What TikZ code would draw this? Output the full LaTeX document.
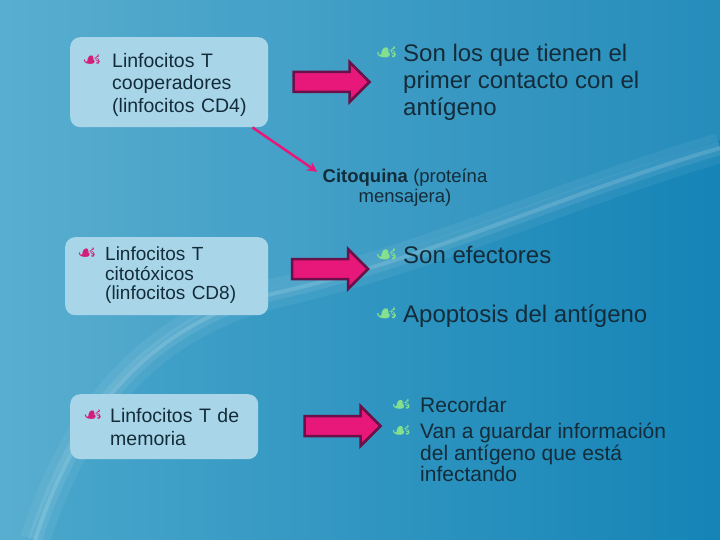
\documentclass[tikz,border=0pt]{standalone}
\usepackage{fontspec}
\setmainfont{Liberation Sans}
\newfontfamily\symfont{DejaVu Sans}
\usetikzlibrary{shapes.arrows, arrows.meta, positioning}

\definecolor{bgleft}{HTML}{4CA8CC}
\definecolor{bgright}{HTML}{1584B6}
\definecolor{boxfill}{HTML}{A8D6E8}
\definecolor{ink}{HTML}{142C3A}
\definecolor{pinkbul}{HTML}{D0207A}
\definecolor{greenbul}{HTML}{84E08C}
\definecolor{arrowfill}{HTML}{E8187A}
\definecolor{arrowline}{HTML}{6B1048}

\newcommand{\fs}[2]{\fontsize{#1}{#2}\selectfont}
\newcommand{\bul}[3]{\makebox[#2][l]{\fontsize{#3}{#3}\symfont\color{#1}☙}}

\begin{document}
\begin{tikzpicture}[
    x=1pt, y=-1pt,
    cellbox/.style={rectangle, rounded corners=10pt, fill=boxfill, text=ink,
        anchor=north west, inner xsep=12pt, inner ysep=0pt, align=left},
    item/.style={text=ink, inner sep=0pt, anchor=base west},
    blockarrow/.style={single arrow, single arrow head extend=10pt,
        minimum height=76pt, inner xsep=0pt, inner ysep=8.75pt,
        fill=arrowfill, draw=arrowline, line width=2.5pt},
    link/.style={draw=arrowfill, line width=2.5pt,
        -{Stealth[length=10pt,width=10pt]}, shorten >=4pt}
]
\useasboundingbox (0,0) rectangle (720,540);
\fill[left color=bgleft, right color=bgright] (0,0) rectangle (720,540);
\fill[white, opacity=0.07] (0,0) -- (720,0) -- (720,140)
  .. controls (560,190) and (430,250) .. (280,285)
  .. controls (160,315) and (80,400) .. (30,540) -- (0,540) -- cycle;
\draw[white, opacity=0.06, line width=30pt] (35,540) .. controls (80,400) and (160,320) .. (280,292)
  .. controls (430,258) and (560,195) .. (720,148);
\draw[white, opacity=0.08, line width=14pt] (35,540) .. controls (80,400) and (160,320) .. (280,292)
  .. controls (430,258) and (560,195) .. (720,148);
\draw[white, opacity=0.14, line width=4pt] (35,540) .. controls (80,400) and (160,320) .. (280,292)
  .. controls (430,258) and (560,195) .. (720,148);

\node (cd4) [cellbox, text width=174pt, minimum height=90pt, font=\fs{19.5}{22.5}] at (70,37)
  {\begin{tabular}{@{}l@{}l@{}}\rule{0pt}{21.7pt}\bul{pinkbul}{30pt}{22pt} & Linfocitos T\\
   & cooperadores\\ & (linfocitos CD4)\end{tabular}};
\node (cd8) [cellbox, text width=179pt, minimum height=78pt, font=\fs{19}{19}] at (65,237)
  {\begin{tabular}{@{}l@{}l@{}}\bul{pinkbul}{28pt}{22pt} & Linfocitos T\\
   & citotóxicos\\ & (linfocitos CD8)\end{tabular}};
\node (memoria) [cellbox, text width=162pt, inner xsep=13pt, minimum height=65pt, font=\fs{19.5}{23}] at (70,394)
  {\begin{tabular}{@{}l@{}l@{}}\rule{0pt}{20.6pt}\bul{pinkbul}{27pt}{22pt} & Linfocitos T de\\
   & memoria\end{tabular}};

\node (arrowA) [blockarrow] at (326.5,82) {};
\node (arrowB) [blockarrow] at (325,269) {};
\node (arrowC) [blockarrow] at (337.5,426) {};

\node (contacto) [item, font=\fs{24}{27}] at (375,62)
  {\begin{tabular}[t]{@{}l@{}l@{}}\bul{greenbul}{28pt}{26pt} & Son los que tienen el\\
   & primer contacto con el\\ & antígeno\end{tabular}};
\node (efectores) [item, font=\fs{24}{27}] at (375,263)
  {\bul{greenbul}{28pt}{26pt}Son efectores};
\node (apoptosis) [item, font=\fs{24}{27}] at (375,322)
  {\bul{greenbul}{28pt}{26pt}Apoptosis del antígeno};
\node (recordar) [item, font=\fs{21}{21.5}] at (391,412)
  {\begin{tabular}[t]{@{}l@{}l@{}}\bul{greenbul}{29pt}{23pt} & Recordar\\[4.5pt]
   \bul{greenbul}{29pt}{23pt} & Van a guardar información\\
   & del antígeno que está\\ & infectando\end{tabular}};

\node (cito) [item, anchor=base, inner sep=2pt, font=\fs{18.5}{20}] at (405,183)
  {\begin{tabular}[t]{@{}c@{}}\textbf{Citoquina} (proteína\\ mensajera)\end{tabular}};

\draw[link] ([xshift=-16pt]cd4.south east) -- (cito.170);

\end{tikzpicture}
\end{document}
